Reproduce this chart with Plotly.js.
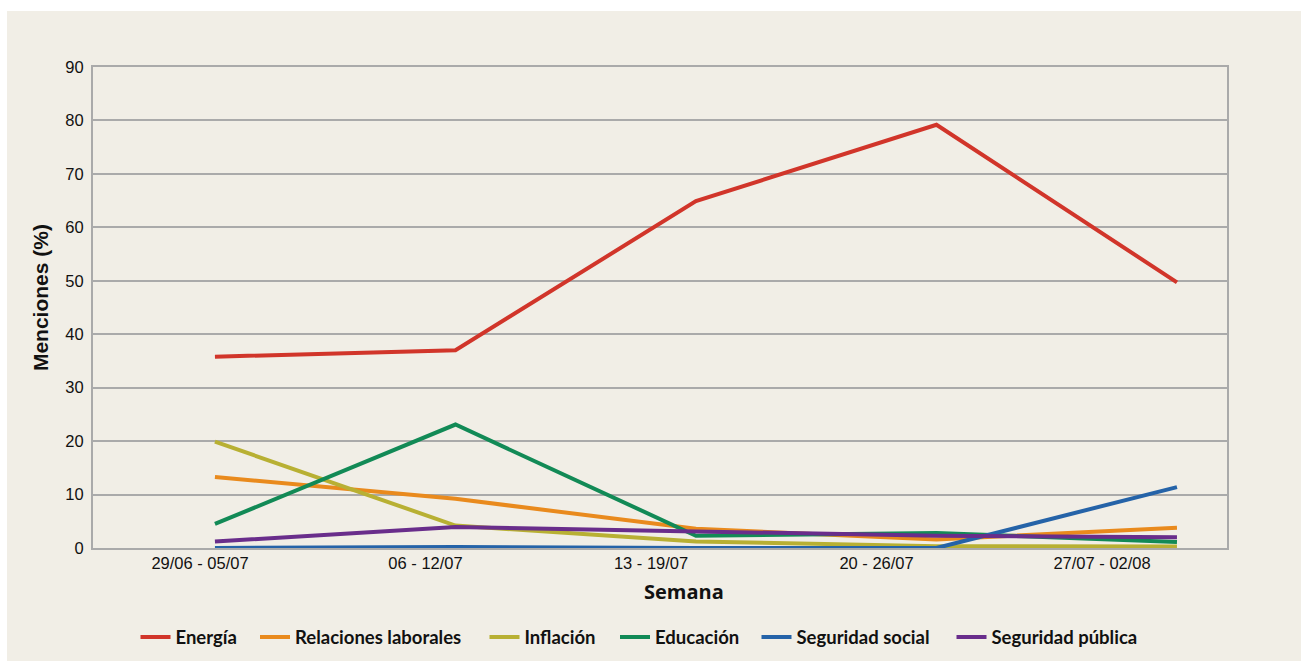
<!DOCTYPE html>
<html>
<head>
<meta charset="utf-8">
<script src="https://cdn.plot.ly/plotly-3.0.1.min.js"></script>
<style>
  html, body { margin: 0; padding: 0; background: #ffffff; }
  #chart { position: absolute; left: 7px; top: 11px; width: 1294px; height: 650px; }
</style>
</head>
<body>
<div id="chart"></div>
<script>
const weeks = ['29/06 - 05/07', '06 - 12/07', '13 - 19/07', '20 - 26/07', '27/07 - 02/08'];
const energia = [35.8, 37.0, 64.9, 79.2, 49.7];
const relacionesLaborales = [13.3, 9.2, 3.6, 1.6, 3.8];
const inflacion = [19.9, 4.2, 1.2, 0.35, 0.3];
const educacion = [4.5, 23.1, 2.3, 2.8, 1.1];
const seguridadSocial = [0, 0.2, 0, 0, 11.4];
const seguridadPublica = [1.2, 3.95, 3.1, 2.3, 2.0];
const yTicks = [0, 10, 20, 30, 40, 50, 60, 70, 80, 90];

const seriesNames = ['Energía', 'Relaciones laborales', 'Inflación', 'Educación', 'Seguridad social', 'Seguridad pública'];
const seriesValues = [energia, relacionesLaborales, inflacion, educacion, seguridadSocial, seguridadPublica];
const seriesColors = ['#D1352A', '#E98A1D', '#B8B033', '#128A56', '#2563A8', '#692D8B'];

const W = 1294, H = 650;
// legend entry left edges in container pixels
const legendLeft = [128.5, 248, 477.5, 608, 749.5, 944.5];

const legendKey = i => (i === 0 ? 'legend' : 'legend' + (i + 1));

const traces = seriesNames.map((name, i) => ({
  type: 'scatter',
  mode: 'lines',
  name: name,
  x: weeks,
  y: seriesValues[i],
  xaxis: 'x',
  yaxis: 'y',
  legend: legendKey(i),
  line: { color: seriesColors[i], width: 4 },
  hoverinfo: 'x+y+name'
}));

// invisible helper trace that carries the week labels on the label axis
traces.push({
  type: 'scatter',
  mode: 'lines',
  name: 'Semana',
  x: weeks,
  y: weeks.map(() => 0),
  xaxis: 'x2',
  yaxis: 'y',
  showlegend: false,
  hoverinfo: 'skip',
  opacity: 0,
  line: { width: 0, color: 'rgba(0,0,0,0)' }
});

const gridColor = '#AAAAAA';
const tickFont = { family: '"Liberation Sans", Arial, sans-serif', size: 16.5, color: '#111111' };
const layout = {
  width: W,
  height: H,
  paper_bgcolor: '#F1EEE6',
  plot_bgcolor: '#F1EEE6',
  margin: { l: 86, r: 74, t: 55.5, b: 112.5 },
  showlegend: true,
  xaxis: {
    type: 'category',
    range: [-0.507, 4.208],
    showgrid: false,
    showticklabels: false,
    showline: true, mirror: true, linecolor: gridColor, linewidth: 2,
    zeroline: false,
    ticks: '',
    fixedrange: true
  },
  xaxis2: {
    type: 'category',
    overlaying: 'x',
    anchor: 'y',
    side: 'bottom',
    range: [-0.4745, 4.554],
    showticklabels: true,
    ticklabelstandoff: 3,
    showgrid: false,
    showline: false,
    zeroline: false,
    ticks: '',
    tickfont: tickFont,
    fixedrange: true
  },
  yaxis: {
    range: [0, 90],
    tickvals: yTicks,
    ticktext: yTicks.map(String),
    showgrid: true, gridcolor: gridColor, gridwidth: 2,
    showline: true, mirror: true, linecolor: gridColor, linewidth: 2,
    zeroline: true, zerolinecolor: gridColor, zerolinewidth: 2,
    ticks: '',
    ticklabelstandoff: 4,
    tickfont: tickFont,
    fixedrange: true
  },
  annotations: [
    {
      text: 'Semana', xref: 'paper', yref: 'paper',
      x: 0.5216, y: -0.0902, xanchor: 'center', yanchor: 'middle',
      showarrow: false,
      font: { family: '"Open Sans", sans-serif', size: 20, weight: 'bold', color: '#111111' }
    },
    {
      text: 'Menciones (%)', xref: 'paper', yref: 'paper',
      x: -0.0467, y: 0.5197, xanchor: 'center', yanchor: 'middle',
      textangle: -90, showarrow: false,
      font: { family: '"Liberation Sans", Arial, sans-serif', size: 21, weight: 'bold', color: '#111111' }
    }
  ]
};

seriesNames.forEach((name, i) => {
  layout[legendKey(i)] = {
    orientation: 'h',
    xref: 'container', yref: 'container',
    x: legendLeft[i] / W, xanchor: 'left',
    y: (661 - 637.5) / H, yanchor: 'middle',
    font: { family: 'Lato, "Open Sans", sans-serif', size: 18.5, weight: 'bold', color: '#111111' },
    bgcolor: 'rgba(0,0,0,0)',
    borderwidth: 0
  };
});

Plotly.newPlot('chart', traces, layout, { displayModeBar: false });
</script>
</body>
</html>
